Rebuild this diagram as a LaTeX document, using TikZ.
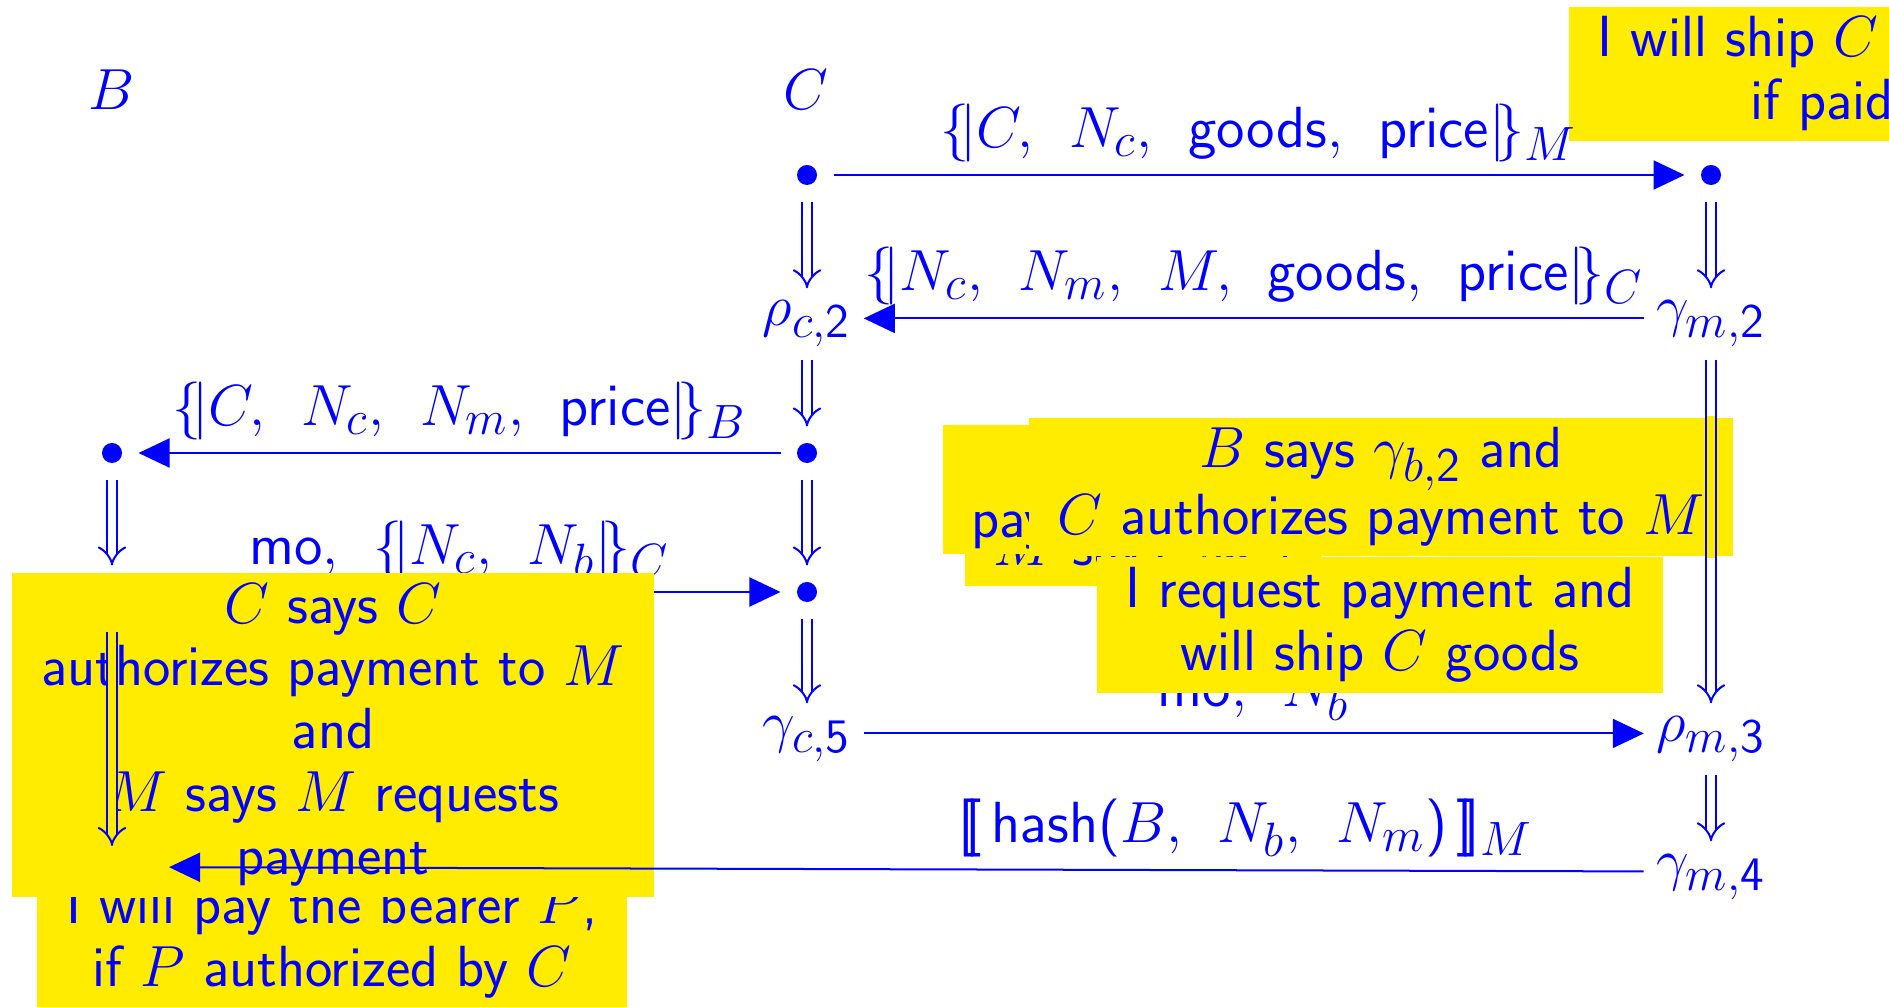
\documentclass[tikz,border=0pt]{standalone}
\usepackage{fix-cm}
\usetikzlibrary{arrows.meta}
\DeclareSymbolFont{operators}{OT1}{cmss}{m}{n}
\DeclareMathSizes{16.5}{16.5}{13.7}{11.4}
\definecolor{notey}{RGB}{255,236,0}
\newcommand{\enc}[2]{\{\!|#1|\!\}_{#2}}
\newcommand{\sig}[2]{[\![#1]\!]_{#2}}
\tikzset{
  pt/.style={circle,fill,inner sep=0pt,minimum size=0.2cm,outer sep=0.165cm},
  term/.style={inner sep=0.12cm,anchor=base},
  msg/.style={line width=0.02cm,-{Triangle[length=0.31cm,width=0.29cm]}},
  succ/.style={line width=0.02cm,double,double distance=0.08cm,-{Implies}},
  lbl/.style={above,inner sep=0.12cm},
  note/.style={fill=notey,align=center,inner xsep=0.29cm,inner ysep=0.1cm}
}
\begin{document}
\begin{tikzpicture}[x=0.01cm,y=-0.01cm,color=blue,font=\sffamily\fontsize{16.5}{17.9}\selectfont]
\useasboundingbox (0,0) rectangle (1889,1007);
% notes under the strands
\node[note,anchor=north west,align=left] (ship) at (1568,6) {I will ship $C$\\\hspace*{1.53cm}if paid};
\node[note] (bearer) at (332,941) {I will pay the bearer $P$,\\if $P$ authorized by $C$};
\node[note,anchor=base west,text height=1cm,text depth=0.1cm] (msays) at (964,566) {$M$ says $\gamma_{m,2}$};
\node[note,anchor=north west,align=left,text depth=0.06cm] (ipay) at (942,424) {\hspace*{0.53cm}I\\pay};
\node[note] (cpay) at (1381,487) {$B$ says $\gamma_{b,2}$ and\\$C$ authorizes payment to $M$};
% strands
\node (hB) at (112,90) {$B$};
\node (hC) at (806,90) {$C$};
\node[pt] (c1) at (807,175) {};
\node[pt] (m1) at (1711,175) {};
\node[term] (rhoc2) at (807,326) {$\rho_{c,2}$};
\node[term] (gm2) at (1711,326) {$\gamma_{m,2}$};
\node[pt] (c3) at (807,453) {};
\node[pt] (b1) at (112,453) {};
\node[pt] (c4) at (807,592) {};
\node[pt] (b2) at (112,592) {};
\node[term] (gc5) at (807,741) {$\gamma_{c,5}$};
\node[term] (rhom3) at (1711,741) {$\rho_{m,3}$};
\node[term] (gm4) at (1711,879) {$\gamma_{m,4}$};
\coordinate (b3) at (112,867);
\draw[succ] (c1) -- (rhoc2);
\draw[succ] (rhoc2) -- (c3);
\draw[succ] (c3) -- (c4);
\draw[succ] (c4) -- (gc5);
\draw[succ] (m1) -- (gm2);
\draw[succ] (gm2) -- (rhom3);
\draw[succ] (rhom3) -- (gm4);
\draw[succ] (b1) -- (b2);
\begin{scope}
\clip (cpay.south west) rectangle (cpay.north east);
\draw[succ,double=notey] (gm2) -- (rhom3);
\end{scope}
% messages
\draw[msg] (c1) -- node[lbl] {$\enc{C,\:\:N_c,\:\:\mathsf{goods},\:\:\mathsf{price}}{M}$} (m1);
\draw[msg] (gm2.mid west) -- node[lbl] {$\enc{N_c,\:\:N_m,\:\:M,\:\:\mathsf{goods},\:\:\mathsf{price}}{C}$} (rhoc2.mid east);
\draw[msg] (c3) -- node[lbl] {$\enc{C,\:\:N_c,\:\:N_m,\:\:\mathsf{price}}{B}$} (b1);
\draw[msg] (b2) -- node[lbl] {$\mathsf{mo},\:\:\enc{N_c,\:\:N_b}{C}$} (c4);
\draw[msg] (gc5.mid east) -- node[lbl] {$\mathsf{mo},\:\:N_b$} (rhom3.mid west);
% notes over the strands
\node[note] (ship2) at (1380,625) {I request payment and\\will ship $C$ goods};
\node[note] (csays) at (333,735) {$C$ says $C$\\authorizes payment to $M$\\and\\$M$ says $M$ requests\\payment};
\draw[succ,double=notey,shorten <=0.13cm,shorten >=0.21cm] (b2) -- (b3);
\draw[msg,shorten >=0.57cm] (gm4.mid west) -- node[lbl,pos=0.26] {$\sig{\,\mathsf{hash}(B,\:\:N_b,\:\:N_m)\,}{M}$} (b3);
\end{tikzpicture}
\end{document}
